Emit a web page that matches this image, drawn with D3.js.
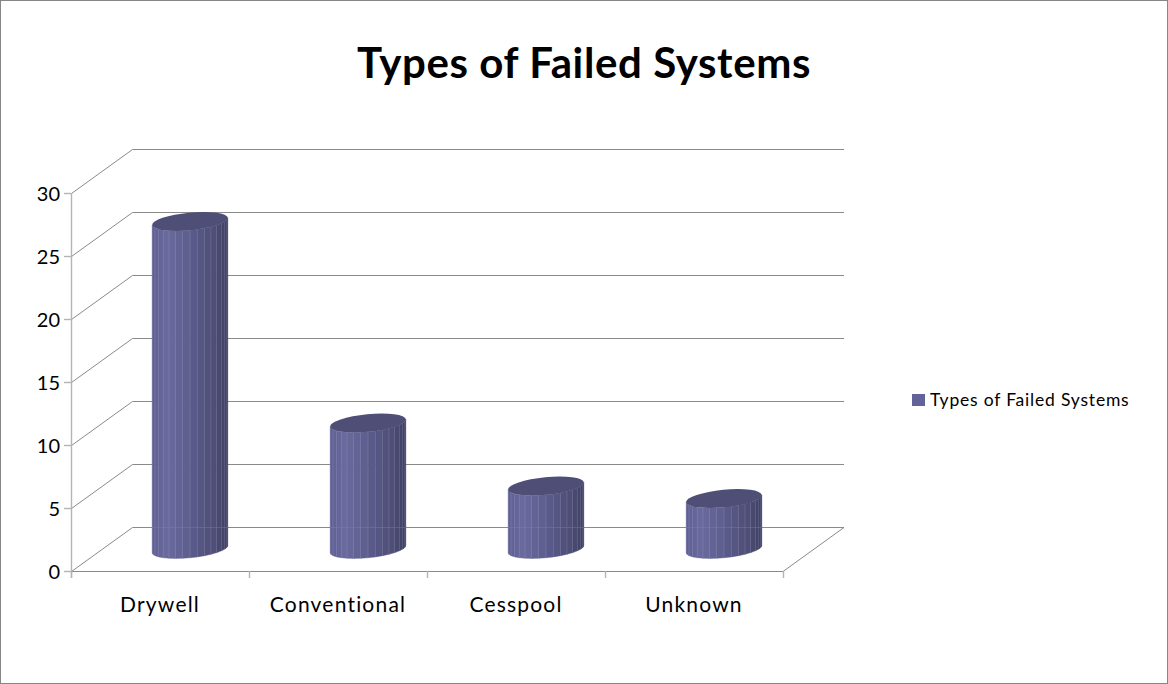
<!DOCTYPE html>
<html>
<head>
<meta charset="utf-8">
<script src="https://cdn.jsdelivr.net/npm/d3@7"></script>
<style>
html, body { margin: 0; padding: 0; background: #fff; }
svg { display: block; }
text { font-family: Lato, "Open Sans", sans-serif; fill: #000; }
</style>
</head>
<body>
<svg id="chart" width="1168" height="684"></svg>
<script>
// chart values
var chartTitle = "Types of Failed Systems";
var categories = ["Drywell", "Conventional", "Cesspool", "Unknown"];
var seriesValues = [26, 10, 5, 4];
var yTicks = [0, 5, 10, 15, 20, 25, 30];

var svg = d3.select("#chart");

// outer frame
svg.append("rect")
    .attr("x", 0.5).attr("y", 0.5)
    .attr("width", 1167).attr("height", 683)
    .attr("fill", "#fff").attr("stroke", "#868686");

// front plane of the plot
var xScale = d3.scaleBand().domain(categories).range([71, 783]);
var yScale = d3.scaleLinear().domain([0, 30]).range([571, 193]);

// depth offset of the back wall
var depthX = 61, depthY = -44;

var grid = svg.append("g").attr("fill", "none").attr("stroke", "#8a8a8a").attr("stroke-width", 1);

// back wall + side wall lines
yTicks.forEach(function (t) {
    var y = Math.round(yScale(t)) + 0.5;
    grid.append("path").attr("d", d3.line()([
        [71.5, y], [71.5 + depthX, y + depthY], [844, y + depthY]
    ]));
});

// floor, right edge
var x1 = 783;
grid.append("path").attr("d", d3.line()([[71, 571.5], [x1, 571.5], [844, 527.5]]));

// axis lines + ticks
var axis = svg.append("g").attr("stroke", "#b4b4b4").attr("stroke-width", 1.4).attr("fill", "none");
axis.append("line").attr("x1", 71.5).attr("x2", 71.5).attr("y1", yScale(30)).attr("y2", 578);
yTicks.forEach(function (t) {
    var y = Math.round(yScale(t)) + 0.5;
    axis.append("line").attr("x1", 64).attr("x2", 71).attr("y1", y).attr("y2", y);
});
categories.forEach(function (c) {
    var x = Math.round(xScale(c)) + 0.5;
    axis.append("line").attr("x1", x).attr("x2", x).attr("y1", 571).attr("y2", 578);
});
axis.append("line").attr("x1", x1 + 0.5).attr("x2", x1 + 0.5).attr("y1", 571).attr("y2", 578);

// cylinders
var rx = 38, ry = 8.8, tilt = -5.5 * Math.PI / 180;
var facetCount = 16;
var shade = d3.scaleLinear()
    .domain([-1, -0.6, 0.1, 0.7, 1])
    .range(["#5f5f92", "#6a6a9e", "#5a5a8a", "#4c4c74", "#414162"]);

function ellipsePoint(cx, cy, a) {
    var ex = rx * Math.cos(a), ey = ry * Math.sin(a);
    return [cx + ex * Math.cos(tilt) - ey * Math.sin(tilt) * 0.2,
            cy + ex * Math.sin(tilt) + ey * Math.cos(tilt)];
}

var bars = svg.append("g");
categories.forEach(function (c, i) {
    var cx = xScale(c) + xScale.bandwidth() / 2 + depthX / 2 - 0.5;
    var baseY = yScale(0) + depthY / 2;
    var topY = baseY - (yScale(0) - yScale(seriesValues[i]));
    var g = bars.append("g");

    // facets, left to right along the front half
    d3.range(facetCount).forEach(function (k) {
        var a0 = Math.PI - Math.PI * k / facetCount;
        var a1 = Math.PI - Math.PI * (k + 1) / facetCount;
        var pts = [ellipsePoint(cx, topY, a0), ellipsePoint(cx, topY, a1),
                   ellipsePoint(cx, baseY, a1), ellipsePoint(cx, baseY, a0)];
        var mid = Math.cos((a0 + a1) / 2);
        g.append("polygon")
            .attr("points", pts.join(" "))
            .attr("fill", shade(mid))
            .attr("stroke", shade(mid))
            .attr("stroke-width", 0.4);
        if (k < facetCount - 1) {
            g.append("line")
                .attr("x1", pts[1][0]).attr("y1", pts[1][1])
                .attr("x2", pts[2][0]).attr("y2", pts[2][1])
                .attr("stroke", "#9a9ac4").attr("stroke-opacity", 0.7).attr("stroke-width", 0.8);
        }
    });

    // top cap
    g.append("ellipse")
        .attr("rx", rx).attr("ry", ry)
        .attr("transform", "translate(" + cx + "," + topY + ") rotate(" + (tilt * 180 / Math.PI) + ")")
        .attr("fill", "#4e4e76");

    // back floor line shows faintly through the body
    g.append("line")
        .attr("x1", cx - rx).attr("x2", cx + rx)
        .attr("y1", 527.5).attr("y2", 527.5)
        .attr("stroke", "#8a8a9a").attr("stroke-opacity", 0.35);
});

// value labels
svg.append("g").selectAll("text").data(yTicks).join("text")
    .attr("x", 60)
    .attr("y", function (d) { return yScale(d) + 8; })
    .attr("text-anchor", "end")
    .attr("font-size", 20)
    .text(function (d) { return d; });

// category labels
svg.append("g").selectAll("text").data(categories).join("text")
    .attr("x", function (d) { return xScale(d) + xScale.bandwidth() / 2; })
    .attr("y", 612)
    .attr("text-anchor", "middle")
    .attr("font-size", 21)
    .attr("letter-spacing", 1.2)
    .text(function (d) { return d; });

// title
svg.append("text")
    .attr("x", 584).attr("y", 78)
    .attr("text-anchor", "middle")
    .attr("font-size", 42)
    .attr("font-weight", 700)
    .attr("letter-spacing", 0.6)
    .text(chartTitle);

// legend
svg.append("rect")
    .attr("x", 912).attr("y", 394).attr("width", 13).attr("height", 12)
    .attr("fill", "#63639a");
svg.append("text")
    .attr("x", 930).attr("y", 406)
    .attr("font-size", 17.5)
    .attr("letter-spacing", 0.8)
    .text(chartTitle);
</script>
</body>
</html>
